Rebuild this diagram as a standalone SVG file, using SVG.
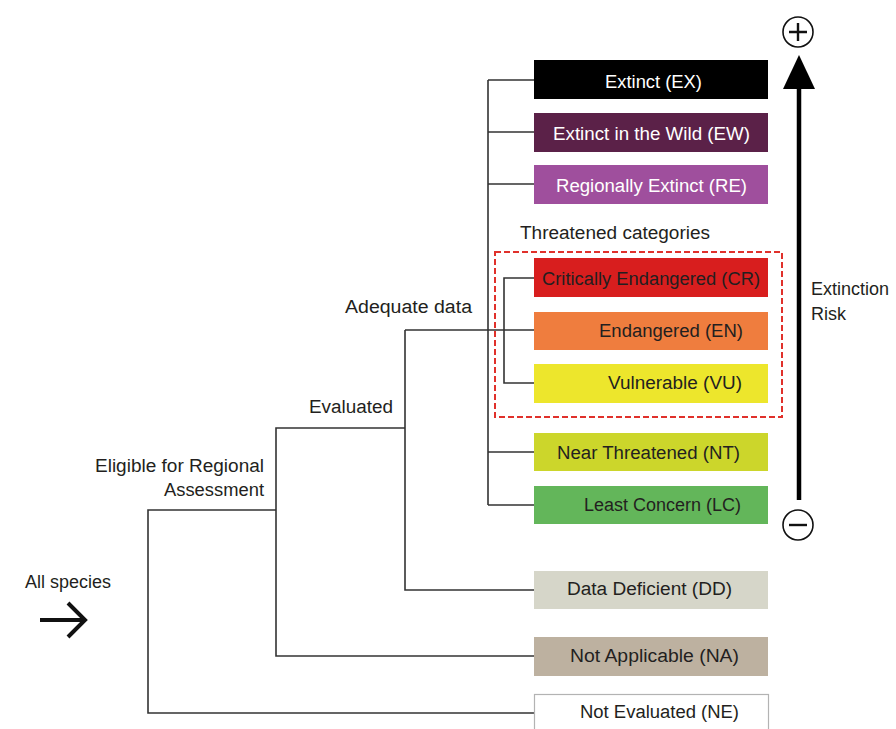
<svg xmlns="http://www.w3.org/2000/svg" width="896" height="729" viewBox="0 0 896 729">
<defs>
<style>
.t{font-family:"Liberation Sans",Arial,sans-serif;font-size:18px;fill:#231f20}
.w{fill:#ffffff}
.ln{fill:none;stroke:#333;stroke-width:1.6}
.box{stroke:none}
</style>
</defs>
<rect width="896" height="729" fill="#ffffff"/>
<g id="connectors">
<path class="ln" d="M488 80V505M488 80H534M488 132H534M488 184H534M488 452H534M488 505H534"/>
<path class="ln" d="M534 278H504V383H534M405 330H534"/>
<path class="ln" d="M405 330V590H534"/>
<path class="ln" d="M405 428H276V656H534"/>
<path class="ln" d="M276 510H148V713H534"/>
</g>
<g id="threatened-group">
<rect x="495" y="252" width="287" height="165" fill="none" stroke="#e0312b" stroke-width="2" stroke-dasharray="6 3"/>
<text class="t" x="520" y="239" textLength="190" lengthAdjust="spacingAndGlyphs">Threatened categories</text>
</g>
<g id="EX"><rect class="box" x="534" y="60" width="234" height="39" fill="#000000"/><text class="t w" x="605" y="88" textLength="97" lengthAdjust="spacingAndGlyphs">Extinct (EX)</text></g>
<g id="EW"><rect class="box" x="534" y="113" width="234" height="39" fill="#5b2148"/><text class="t w" x="553" y="140" textLength="197" lengthAdjust="spacingAndGlyphs">Extinct in the Wild (EW)</text></g>
<g id="RE"><rect class="box" x="534" y="165" width="234" height="39" fill="#9f4f9d"/><text class="t w" x="556" y="192" textLength="191" lengthAdjust="spacingAndGlyphs">Regionally Extinct (RE)</text></g>
<g id="CR"><rect class="box" x="534" y="258" width="234" height="39" fill="#d81e1e"/><text class="t" x="542" y="285" textLength="218" lengthAdjust="spacingAndGlyphs">Critically Endangered (CR)</text></g>
<g id="EN"><rect class="box" x="534" y="312" width="234" height="38" fill="#ef7d3e"/><text class="t" x="599" y="337" textLength="144" lengthAdjust="spacingAndGlyphs">Endangered (EN)</text></g>
<g id="VU"><rect class="box" x="534" y="364" width="234" height="39" fill="#ede62c"/><text class="t" x="608" y="389" textLength="134" lengthAdjust="spacingAndGlyphs">Vulnerable (VU)</text></g>
<g id="NT"><rect class="box" x="534" y="433" width="234" height="38" fill="#ccd62b"/><text class="t" x="557" y="459" textLength="183" lengthAdjust="spacingAndGlyphs">Near Threatened (NT)</text></g>
<g id="LC"><rect class="box" x="534" y="486" width="234" height="38" fill="#63b65a"/><text class="t" x="584" y="511" textLength="157" lengthAdjust="spacingAndGlyphs">Least Concern (LC)</text></g>
<g id="DD"><rect class="box" x="534" y="571" width="234" height="38" fill="#d6d6c9"/><text class="t" x="567" y="595" textLength="165" lengthAdjust="spacingAndGlyphs">Data Deficient (DD)</text></g>
<g id="NA"><rect class="box" x="534" y="637" width="234" height="39" fill="#bdb1a0"/><text class="t" x="570" y="662" textLength="169" lengthAdjust="spacingAndGlyphs">Not Applicable (NA)</text></g>
<g id="NE"><rect x="534.5" y="694.5" width="234" height="40" fill="#ffffff" stroke="#b3b3b3" stroke-width="1.2"/><text class="t" x="580" y="718" textLength="159" lengthAdjust="spacingAndGlyphs">Not Evaluated (NE)</text></g>
<g id="labels">
<text class="t" x="345" y="313" textLength="127" lengthAdjust="spacingAndGlyphs">Adequate data</text>
<text class="t" x="309" y="413" textLength="84" lengthAdjust="spacingAndGlyphs">Evaluated</text>
<text class="t" x="95" y="472" textLength="169" lengthAdjust="spacingAndGlyphs">Eligible for Regional</text>
<text class="t" x="164" y="496" textLength="100" lengthAdjust="spacingAndGlyphs">Assessment</text>
<text class="t" x="25" y="588" textLength="86" lengthAdjust="spacingAndGlyphs">All species</text>
</g>
<g id="all-species-arrow">
<path d="M40 620H85M68 603L85 620L68 637" fill="none" stroke="#111" stroke-width="4"/>
</g>
<g id="risk-axis">
<line x1="799" y1="86" x2="799" y2="500" stroke="#000" stroke-width="4.5"/>
<polygon points="799,55 815,89 783,89" fill="#000"/>
<circle cx="798" cy="32" r="15" fill="none" stroke="#111" stroke-width="1.6"/>
<path d="M789 32H807M798 23V41" stroke="#111" stroke-width="2.4"/>
<circle cx="798" cy="525" r="15" fill="none" stroke="#111" stroke-width="1.6"/>
<path d="M789 525H807" stroke="#111" stroke-width="2.4"/>
<text class="t" x="811" y="295">Extinction</text>
<text class="t" x="811" y="320">Risk</text>
</g>
</svg>
